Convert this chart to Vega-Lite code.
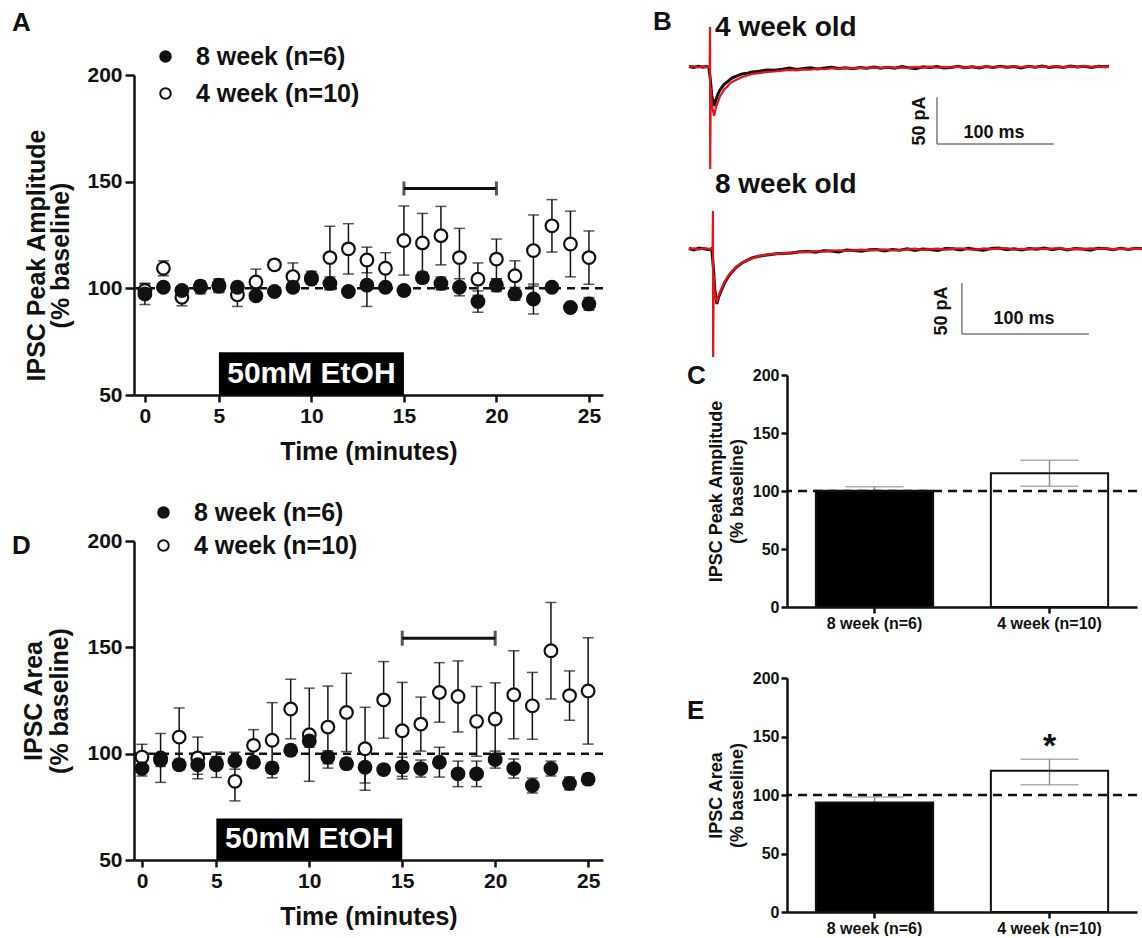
{
  "$schema": "https://vega.github.io/schema/vega-lite/v6.json",
  "background": "white",
  "padding": {"left": 12, "top": 8, "right": 0, "bottom": 0},
  "config": {
    "view": {"stroke": null},
    "font": "Liberation Sans",
    "axis": {"grid": false, "domainColor": "#111", "domainWidth": 2.5, "tickColor": "#111", "tickWidth": 2.5, "labelFont": "Liberation Sans", "labelFontWeight": "bold", "labelColor": "#111", "titleFont": "Liberation Sans", "titleFontWeight": "bold", "titleColor": "#111"},
    "legend": {"labelFont": "Liberation Sans", "labelFontWeight": "bold", "labelColor": "#111", "labelLimit": 400},
    "title": {"font": "Liberation Sans", "fontWeight": "bold", "color": "#111", "anchor": "start", "frame": "group", "offset": 0, "baseline": "bottom", "fontSize": 26}
  },
  "datasets": {
    "ampA": [
      {"t":1,"g":"4 week (n=10)","v":99,"lo":96,"hi":102},
      {"t":2,"g":"4 week (n=10)","v":109.4,"lo":105.9,"hi":112.9},
      {"t":3,"g":"4 week (n=10)","v":95.8,"lo":91.8,"hi":99.8},
      {"t":4,"g":"4 week (n=10)","v":101,"lo":99,"hi":103},
      {"t":5,"g":"4 week (n=10)","v":101.5,"lo":98.5,"hi":104.5},
      {"t":6,"g":"4 week (n=10)","v":97,"lo":91.5,"hi":102.5},
      {"t":7,"g":"4 week (n=10)","v":103,"lo":97,"hi":109},
      {"t":8,"g":"4 week (n=10)","v":111,"lo":108.7,"hi":113.3},
      {"t":9,"g":"4 week (n=10)","v":105.5,"lo":99.1,"hi":111.9},
      {"t":10,"g":"4 week (n=10)","v":105,"lo":102,"hi":108},
      {"t":11,"g":"4 week (n=10)","v":114.4,"lo":99.7,"hi":129.1},
      {"t":12,"g":"4 week (n=10)","v":118.5,"lo":106.7,"hi":130.3},
      {"t":13,"g":"4 week (n=10)","v":113.3,"lo":107.3,"hi":119.3},
      {"t":14,"g":"4 week (n=10)","v":109.4,"lo":102.1,"hi":116.7},
      {"t":15,"g":"4 week (n=10)","v":122.4,"lo":106.2,"hi":138.6},
      {"t":16,"g":"4 week (n=10)","v":121.3,"lo":107.5,"hi":135.1},
      {"t":17,"g":"4 week (n=10)","v":124.7,"lo":111,"hi":138.4},
      {"t":18,"g":"4 week (n=10)","v":114.4,"lo":100.7,"hi":128.1},
      {"t":19,"g":"4 week (n=10)","v":104.3,"lo":96.7,"hi":111.9},
      {"t":20,"g":"4 week (n=10)","v":113.7,"lo":104.3,"hi":123.1},
      {"t":21,"g":"4 week (n=10)","v":105.9,"lo":98.9,"hi":112.9},
      {"t":22,"g":"4 week (n=10)","v":117.7,"lo":101,"hi":134.4},
      {"t":23,"g":"4 week (n=10)","v":129.3,"lo":117,"hi":141.6},
      {"t":24,"g":"4 week (n=10)","v":120.8,"lo":105.4,"hi":136.2},
      {"t":25,"g":"4 week (n=10)","v":114.4,"lo":101.9,"hi":126.9},
      {"t":1,"g":"8 week (n=6)","v":97.4,"lo":92.4,"hi":102.4},
      {"t":2,"g":"8 week (n=6)","v":100.5,"lo":99,"hi":102},
      {"t":3,"g":"8 week (n=6)","v":99,"lo":97,"hi":101},
      {"t":4,"g":"8 week (n=6)","v":100.5,"lo":97.5,"hi":103.5},
      {"t":5,"g":"8 week (n=6)","v":101,"lo":98,"hi":104},
      {"t":6,"g":"8 week (n=6)","v":100.5,"lo":98.5,"hi":102.5},
      {"t":7,"g":"8 week (n=6)","v":96.5,"lo":95,"hi":98},
      {"t":8,"g":"8 week (n=6)","v":98.5,"lo":97,"hi":100},
      {"t":9,"g":"8 week (n=6)","v":100.5,"lo":98.5,"hi":102.5},
      {"t":10,"g":"8 week (n=6)","v":104.3,"lo":102.3,"hi":106.3},
      {"t":11,"g":"8 week (n=6)","v":102.3,"lo":99.3,"hi":105.3},
      {"t":12,"g":"8 week (n=6)","v":98.5,"lo":97,"hi":100},
      {"t":13,"g":"8 week (n=6)","v":101.5,"lo":91.5,"hi":111.5},
      {"t":14,"g":"8 week (n=6)","v":100.5,"lo":98.5,"hi":102.5},
      {"t":15,"g":"8 week (n=6)","v":99,"lo":97,"hi":101},
      {"t":16,"g":"8 week (n=6)","v":105,"lo":102.5,"hi":107.5},
      {"t":17,"g":"8 week (n=6)","v":102.3,"lo":99.3,"hi":105.3},
      {"t":18,"g":"8 week (n=6)","v":100.5,"lo":96.5,"hi":104.5},
      {"t":19,"g":"8 week (n=6)","v":93.8,"lo":88.8,"hi":98.8},
      {"t":20,"g":"8 week (n=6)","v":101.5,"lo":98.5,"hi":104.5},
      {"t":21,"g":"8 week (n=6)","v":97.4,"lo":94.4,"hi":100.4},
      {"t":22,"g":"8 week (n=6)","v":95,"lo":88,"hi":102},
      {"t":23,"g":"8 week (n=6)","v":100.5,"lo":99,"hi":102},
      {"t":24,"g":"8 week (n=6)","v":91,"lo":90,"hi":92},
      {"t":25,"g":"8 week (n=6)","v":92.7,"lo":89.7,"hi":95.7}
    ],
    "areaD": [
      {"t":1,"g":"4 week (n=10)","v":98.4,"lo":92.4,"hi":104.4},
      {"t":2,"g":"4 week (n=10)","v":98,"lo":86.5,"hi":109.5},
      {"t":3,"g":"4 week (n=10)","v":107.8,"lo":94.1,"hi":121.5},
      {"t":4,"g":"4 week (n=10)","v":98,"lo":88.2,"hi":107.8},
      {"t":5,"g":"4 week (n=10)","v":94.8,"lo":88.8,"hi":100.8},
      {"t":6,"g":"4 week (n=10)","v":87,"lo":77.8,"hi":96.2},
      {"t":7,"g":"4 week (n=10)","v":103.9,"lo":96.5,"hi":111.3},
      {"t":8,"g":"4 week (n=10)","v":106.3,"lo":88.6,"hi":124},
      {"t":9,"g":"4 week (n=10)","v":121,"lo":107,"hi":135},
      {"t":10,"g":"4 week (n=10)","v":108.9,"lo":87,"hi":130.8},
      {"t":11,"g":"4 week (n=10)","v":112.5,"lo":93.2,"hi":131.8},
      {"t":12,"g":"4 week (n=10)","v":119.4,"lo":101,"hi":137.8},
      {"t":13,"g":"4 week (n=10)","v":102.3,"lo":82.8,"hi":121.8},
      {"t":14,"g":"4 week (n=10)","v":125.3,"lo":107.3,"hi":143.3},
      {"t":15,"g":"4 week (n=10)","v":110.8,"lo":88.1,"hi":133.5},
      {"t":16,"g":"4 week (n=10)","v":113.9,"lo":101.2,"hi":126.6},
      {"t":17,"g":"4 week (n=10)","v":128.8,"lo":114.8,"hi":142.8},
      {"t":18,"g":"4 week (n=10)","v":126.9,"lo":110.2,"hi":143.6},
      {"t":19,"g":"4 week (n=10)","v":115.2,"lo":98.8,"hi":131.6},
      {"t":20,"g":"4 week (n=10)","v":116.3,"lo":99.3,"hi":133.3},
      {"t":21,"g":"4 week (n=10)","v":127.7,"lo":107,"hi":148.4},
      {"t":22,"g":"4 week (n=10)","v":122.5,"lo":106.8,"hi":138.2},
      {"t":23,"g":"4 week (n=10)","v":148.4,"lo":125.7,"hi":171.1},
      {"t":24,"g":"4 week (n=10)","v":127.3,"lo":115.7,"hi":138.9},
      {"t":25,"g":"4 week (n=10)","v":129.5,"lo":104.5,"hi":154.5},
      {"t":1,"g":"8 week (n=6)","v":93,"lo":89.5,"hi":96.5},
      {"t":2,"g":"8 week (n=6)","v":97,"lo":94,"hi":100},
      {"t":3,"g":"8 week (n=6)","v":94.8,"lo":92.3,"hi":97.3},
      {"t":4,"g":"8 week (n=6)","v":94.8,"lo":90.3,"hi":99.3},
      {"t":5,"g":"8 week (n=6)","v":95.6,"lo":92.6,"hi":98.6},
      {"t":6,"g":"8 week (n=6)","v":96.7,"lo":92.7,"hi":100.7},
      {"t":7,"g":"8 week (n=6)","v":96,"lo":94,"hi":98},
      {"t":8,"g":"8 week (n=6)","v":93.3,"lo":90.8,"hi":95.8},
      {"t":9,"g":"8 week (n=6)","v":101.6,"lo":99.1,"hi":104.1},
      {"t":10,"g":"8 week (n=6)","v":106,"lo":103,"hi":109},
      {"t":11,"g":"8 week (n=6)","v":98.3,"lo":95.3,"hi":101.3},
      {"t":12,"g":"8 week (n=6)","v":95.3,"lo":92.8,"hi":97.8},
      {"t":13,"g":"8 week (n=6)","v":93.6,"lo":86.2,"hi":101},
      {"t":14,"g":"8 week (n=6)","v":92.5,"lo":90.5,"hi":94.5},
      {"t":15,"g":"8 week (n=6)","v":93.8,"lo":89.3,"hi":98.3},
      {"t":16,"g":"8 week (n=6)","v":93,"lo":89,"hi":97},
      {"t":17,"g":"8 week (n=6)","v":96,"lo":89,"hi":103},
      {"t":18,"g":"8 week (n=6)","v":90.5,"lo":84.5,"hi":96.5},
      {"t":19,"g":"8 week (n=6)","v":90.5,"lo":84.5,"hi":96.5},
      {"t":20,"g":"8 week (n=6)","v":97.2,"lo":93.2,"hi":101.2},
      {"t":21,"g":"8 week (n=6)","v":93,"lo":88.5,"hi":97.5},
      {"t":22,"g":"8 week (n=6)","v":85,"lo":81.5,"hi":88.5},
      {"t":23,"g":"8 week (n=6)","v":93,"lo":89.5,"hi":96.5},
      {"t":24,"g":"8 week (n=6)","v":86,"lo":83,"hi":89},
      {"t":25,"g":"8 week (n=6)","v":88,"lo":85.5,"hi":90.5}
    ],
    "boxA": [{"t":5,"t2":15,"v":50,"v2":70,"tm":10,"vm":60,"label":"50mM EtOH"}],
    "boxD": [{"t":5,"t2":15,"v":50,"v2":69.5,"tm":10,"vm":59.7,"label":"50mM EtOH"}],
    "brA": [{"t":15,"t2":20,"v":146.8}],
    "brD": [{"t":15,"t2":20,"v":154.3}],
    "ref100": [{"v":100}],
    "tr4k": [
      {"t":-18,"I":0.5},{"t":-14,"I":-0.5},{"t":-10,"I":0.8},{"t":-6,"I":-0.3},{"t":-3,"I":0.4},{"t":-1,"I":0},
      {"t":0.3,"I":-14},{"t":1.5,"I":-30},{"t":3.4,"I":-41.5},{"t":5,"I":-35},{"t":6.8,"I":-28.7},{"t":8.5,"I":-24.5},
      {"t":10.3,"I":-21.3},{"t":12,"I":-18.5},{"t":14.5,"I":-16},{"t":17,"I":-13.5},{"t":18.8,"I":-11.7},{"t":22,"I":-10},
      {"t":27.4,"I":-7.4},{"t":32,"I":-6.5},{"t":35.9,"I":-5.3},{"t":42,"I":-4.5},{"t":48.7,"I":-3.2},{"t":55,"I":-3.5},
      {"t":62,"I":-2.4},{"t":68,"I":-1.2},{"t":74,"I":-2.6},{"t":80,"I":-1.5},{"t":86,"I":-0.8},{"t":92,"I":-2.0},
      {"t":98,"I":-1.1},{"t":104,"I":-0.4},{"t":110,"I":-1.6},{"t":116,"I":-0.9},{"t":122,"I":-1.9},{"t":128,"I":-0.6},
      {"t":134,"I":-1.3},{"t":140,"I":0.1},{"t":146,"I":-1.4},{"t":152,"I":-0.3},{"t":158,"I":-1.2},{"t":164,"I":0.4},
      {"t":170,"I":-0.9},{"t":176,"I":-1.7},{"t":182,"I":0.2},{"t":188,"I":-0.6},{"t":194,"I":0.5},{"t":200,"I":-1.0},
      {"t":206,"I":-0.4},{"t":212,"I":0.7},{"t":218,"I":-0.8},{"t":224,"I":0.3},{"t":230,"I":-1.1},{"t":236,"I":0.6},
      {"t":242,"I":-0.6},{"t":248,"I":0.9},{"t":254,"I":-0.3},{"t":260,"I":0.5},{"t":266,"I":-0.9},{"t":272,"I":0.8},
      {"t":278,"I":-0.2},{"t":284,"I":1.0},{"t":290,"I":-0.5},{"t":296,"I":0.6},{"t":302,"I":-0.4},{"t":308,"I":1.1},
      {"t":314,"I":0.1},{"t":320,"I":0.8},{"t":326,"I":-0.6},{"t":332,"I":0.9},{"t":338,"I":0.2},{"t":341,"I":0.8}
    ],
    "tr4r": [
      {"t":-18,"I":0.3},{"t":-14,"I":0.9},{"t":-10,"I":-0.4},{"t":-6,"I":0.6},{"t":-3,"I":-0.2},{"t":-1,"I":0.2},{"t":-0.3,"I":0},
      {"t":0,"I":42.6},{"t":0.15,"I":-108.5},{"t":0.6,"I":-22},{"t":1.5,"I":-40},{"t":3.4,"I":-52},{"t":5,"I":-43},
      {"t":6.8,"I":-37},{"t":8.5,"I":-31},{"t":10.3,"I":-27.7},{"t":12,"I":-24},{"t":14.5,"I":-21.3},{"t":17,"I":-17.5},
      {"t":18.8,"I":-16},{"t":22,"I":-13.8},{"t":27.4,"I":-10.6},{"t":32,"I":-9},{"t":35.9,"I":-7.4},{"t":42,"I":-6.5},
      {"t":48.7,"I":-5.3},{"t":55,"I":-4.8},
      {"t":62,"I":-3.9},{"t":68,"I":-3.0},{"t":74,"I":-3.6},{"t":80,"I":-2.6},{"t":86,"I":-2.9},{"t":92,"I":-1.8},
      {"t":98,"I":-2.4},{"t":104,"I":-1.3},{"t":110,"I":-1.9},{"t":116,"I":-1.0},{"t":122,"I":-1.7},{"t":128,"I":-0.8},
      {"t":134,"I":-1.5},{"t":140,"I":-0.5},{"t":146,"I":-1.1},{"t":152,"I":-0.2},{"t":158,"I":-1.0},{"t":164,"I":-0.4},
      {"t":170,"I":-1.2},{"t":176,"I":0.1},{"t":182,"I":-0.7},{"t":188,"I":0.3},{"t":194,"I":-0.8},{"t":200,"I":0.2},
      {"t":206,"I":-0.5},{"t":212,"I":0.4},{"t":218,"I":-0.6},{"t":224,"I":0.5},{"t":230,"I":-0.3},{"t":236,"I":0.7},
      {"t":242,"I":-0.5},{"t":248,"I":0.4},{"t":254,"I":-0.6},{"t":260,"I":0.8},{"t":266,"I":-0.2},{"t":272,"I":0.6},
      {"t":278,"I":-0.4},{"t":284,"I":0.7},{"t":290,"I":0.0},{"t":296,"I":0.9},{"t":302,"I":-0.3},{"t":308,"I":0.6},
      {"t":314,"I":-0.2},{"t":320,"I":0.9},{"t":326,"I":0.1},{"t":332,"I":0.6},{"t":338,"I":-0.1},{"t":341,"I":0.5}
    ],
    "tr8k": [
      {"t":-19,"I":0.5},{"t":-15,"I":-0.8},{"t":-11,"I":0.9},{"t":-7,"I":0.2},{"t":-3,"I":-0.6},{"t":-1,"I":0.3},
      {"t":0.5,"I":-20},{"t":1.5,"I":-40},{"t":3.1,"I":-52.9},{"t":4.5,"I":-46},{"t":7.1,"I":-38.5},{"t":9,"I":-33},
      {"t":11,"I":-28.8},{"t":13,"I":-25},{"t":15,"I":-22},{"t":18,"I":-18},{"t":22.8,"I":-13.5},{"t":26,"I":-11.5},
      {"t":30.7,"I":-8.7},{"t":36,"I":-7},{"t":42.5,"I":-5.8},{"t":50,"I":-4.5},
      {"t":62,"I":-3.8},{"t":68,"I":-2.6},{"t":75,"I":-2.5},{"t":81,"I":-3.1},{"t":87,"I":-1.6},{"t":93,"I":-1.9},
      {"t":99,"I":-2.8},{"t":105,"I":-1.0},{"t":111,"I":-1.5},{"t":117,"I":-2.2},{"t":123,"I":-0.7},{"t":129,"I":-0.6},
      {"t":135,"I":-1.8},{"t":141,"I":-0.4},{"t":147,"I":-1.2},{"t":153,"I":0.2},{"t":159,"I":-1.4},{"t":165,"I":-0.1},
      {"t":171,"I":-0.4},{"t":177,"I":-1.5},{"t":183,"I":0.5},{"t":189,"I":0.3},{"t":195,"I":-0.9},{"t":201,"I":0.6},
      {"t":207,"I":-0.5},{"t":213,"I":-1.3},{"t":219,"I":0.4},{"t":225,"I":0.9},{"t":231,"I":-0.7},{"t":237,"I":0.2},
      {"t":243,"I":-1.0},{"t":249,"I":0.5},{"t":255,"I":-0.3},{"t":261,"I":1.0},{"t":267,"I":-0.6},{"t":273,"I":0.6},
      {"t":279,"I":-0.9},{"t":285,"I":0.4},{"t":291,"I":0.0},{"t":297,"I":-1.1},{"t":303,"I":0.7},{"t":309,"I":0.4},
      {"t":315,"I":-0.8},{"t":321,"I":0.6},{"t":327,"I":-0.5},{"t":333,"I":0.8},{"t":338,"I":0.3}
    ],
    "tr8r": [
      {"t":-19,"I":0.2},{"t":-15,"I":0.6},{"t":-11,"I":-0.5},{"t":-7,"I":0.7},{"t":-3,"I":0.1},{"t":-1,"I":-0.3},{"t":-0.3,"I":0},
      {"t":0,"I":36.5},{"t":0.15,"I":-103.8},{"t":0.6,"I":-25},{"t":1.6,"I":-45},{"t":3.1,"I":-50},{"t":4.5,"I":-45},
      {"t":7.1,"I":-37},{"t":9,"I":-32},{"t":11,"I":-28},{"t":13,"I":-24.5},{"t":15,"I":-21.5},{"t":18,"I":-17.8},
      {"t":22.8,"I":-13.2},{"t":26,"I":-11.2},{"t":30.7,"I":-8.9},{"t":36,"I":-6.7},{"t":42.5,"I":-5.5},{"t":50,"I":-4.7},
      {"t":62,"I":-3.5},{"t":68,"I":-3.1},{"t":75,"I":-2.7},{"t":81,"I":-2.0},{"t":87,"I":-2.5},{"t":93,"I":-1.7},
      {"t":99,"I":-1.2},{"t":105,"I":-1.9},{"t":111,"I":-1.3},{"t":117,"I":-0.6},{"t":123,"I":-1.4},{"t":129,"I":-0.8},
      {"t":135,"I":-0.3},{"t":141,"I":-1.2},{"t":147,"I":-1.0},{"t":153,"I":-0.4},{"t":159,"I":0.3},{"t":165,"I":-0.8},
      {"t":171,"I":-0.2},{"t":177,"I":0.4},{"t":183,"I":-0.6},{"t":189,"I":0.1},{"t":195,"I":0.7},{"t":201,"I":-0.4},
      {"t":207,"I":-0.7},{"t":213,"I":0.5},{"t":219,"I":-0.2},{"t":225,"I":0.3},{"t":231,"I":0.8},{"t":237,"I":-0.5},
      {"t":243,"I":0.2},{"t":249,"I":-0.4},{"t":255,"I":0.6},{"t":261,"I":-0.1},{"t":267,"I":0.4},{"t":273,"I":0.9},
      {"t":279,"I":-0.3},{"t":285,"I":0.2},{"t":291,"I":-0.2},{"t":297,"I":0.5},{"t":303,"I":0.1},{"t":309,"I":0.6},
      {"t":315,"I":-0.4},{"t":321,"I":0.3},{"t":327,"I":-0.2},{"t":333,"I":0.4},{"t":338,"I":0.1}
    ],
    "sb4": [{"t":194,"t2":194,"I":-32.2,"I2":-81.9},{"t":194,"t2":293.8,"I":-81.9,"I2":-81.9}],
    "sb8": [{"t":196,"t2":196,"I":-32.7,"I2":-81.7},{"t":196,"t2":296,"I":-81.7,"I2":-81.7}],
    "lab4": [
      {"kind":"title","t":4.3,"I":41.5,"label":"4 week old"},
      {"kind":"amp","t":179.5,"I":-57.4,"label":"50 pA"},
      {"kind":"time","t":242.7,"I":-70.2,"label":"100 ms"}
    ],
    "lab8": [
      {"kind":"title","t":1.6,"I":62,"label":"8 week old"},
      {"kind":"amp","t":180.3,"I":-59.6,"label":"50 pA"},
      {"kind":"time","t":244.9,"I":-67.3,"label":"100 ms"}
    ],
    "barC": [
      {"g":"8 week (n=6)","m":100.3,"lo":97,"hi":103.6},
      {"g":"4 week (n=10)","m":115.2,"lo":104,"hi":126.5}
    ],
    "barE": [
      {"g":"8 week (n=6)","m":93.6,"lo":89,"hi":98.2},
      {"g":"4 week (n=10)","m":120.7,"lo":108.7,"hi":130.6}
    ],
    "star": [{"g":"4 week (n=10)","v":141,"label":"*"}]
  },
  "spacing": 48,
  "resolve": {"scale": {"fill": "independent"}, "legend": {"fill": "independent"}},
  "hconcat": [
    {
      "bounds": "flush",
      "spacing": 146,
      "resolve": {"scale": {"fill": "independent"}, "legend": {"fill": "independent"}},
      "vconcat": [
        {
          "width": 469, "height": 320,
          "title": {"text": "A", "dx": -122, "dy": -4},
          "layer": [
            {"data": {"name": "boxA"}, "mark": {"type": "rect", "color": "#000"},
             "encoding": {
               "x": {"field": "t", "type": "quantitative", "scale": {"domain": [0.41, 25.76], "nice": false, "zero": false},
                     "axis": {"values": [1, 5, 10, 15, 20, 25], "labelExpr": "datum.value == 1 ? '0' : datum.label", "title": "Time (minutes)", "titleFontSize": 25, "labelFontSize": 21, "tickSize": 7, "labelPadding": 3, "titlePadding": 13, "labelFlush": false}},
               "x2": {"field": "t2"},
               "y": {"field": "v", "type": "quantitative", "scale": {"domain": [50, 200], "nice": false, "zero": false},
                     "axis": {"values": [50, 100, 150, 200], "title": ["IPSC Peak Amplitude", "(% baseline)"], "titleFontSize": 25, "titleLineHeight": 24, "titleY": 180, "labelFontSize": 21, "tickSize": 9, "labelPadding": 3, "titlePadding": 13}},
               "y2": {"field": "v2"}}},
            {"data": {"name": "boxA"}, "mark": {"type": "text", "color": "white", "font": "Liberation Sans", "fontWeight": "bold", "fontSize": 30, "align": "center", "baseline": "middle"},
             "encoding": {
               "x": {"field": "tm", "type": "quantitative"},
               "y": {"field": "vm", "type": "quantitative"},
               "text": {"field": "label"}}},
            {"data": {"name": "ref100"}, "mark": {"type": "rule", "color": "#111", "strokeWidth": 2.5, "strokeDash": [8, 6]},
             "encoding": {"y": {"field": "v", "type": "quantitative"}}},
            {"data": {"name": "brA"}, "mark": {"type": "rule", "color": "#111", "strokeWidth": 3},
             "encoding": {"x": {"field": "t", "type": "quantitative"}, "x2": {"field": "t2"}, "y": {"field": "v", "type": "quantitative"}}},
            {"data": {"name": "brA"}, "mark": {"type": "tick", "color": "#111", "thickness": 3, "size": 14, "orient": "vertical"},
             "encoding": {"x": {"field": "t", "type": "quantitative"}, "y": {"field": "v", "type": "quantitative"}}},
            {"data": {"name": "brA"}, "mark": {"type": "tick", "color": "#111", "thickness": 3, "size": 14, "orient": "vertical"},
             "encoding": {"x": {"field": "t2", "type": "quantitative"}, "y": {"field": "v", "type": "quantitative"}}},
            {"data": {"name": "ampA"}, "mark": {"type": "rule", "color": "#111", "strokeWidth": 1.5},
             "encoding": {"x": {"field": "t", "type": "quantitative"}, "y": {"field": "lo", "type": "quantitative"}, "y2": {"field": "hi"}}},
            {"data": {"name": "ampA"}, "mark": {"type": "tick", "color": "#111", "thickness": 1.5, "size": 11, "orient": "horizontal"},
             "encoding": {"x": {"field": "t", "type": "quantitative"}, "y": {"field": "lo", "type": "quantitative"}}},
            {"data": {"name": "ampA"}, "mark": {"type": "tick", "color": "#111", "thickness": 1.5, "size": 11, "orient": "horizontal"},
             "encoding": {"x": {"field": "t", "type": "quantitative"}, "y": {"field": "hi", "type": "quantitative"}}},
            {"data": {"name": "ampA"}, "mark": {"type": "point", "filled": true, "shape": "circle", "size": 160, "stroke": "#111", "strokeWidth": 2.2, "opacity": 1},
             "encoding": {
               "x": {"field": "t", "type": "quantitative"},
               "y": {"field": "v", "type": "quantitative"},
               "fill": {"field": "g", "type": "nominal", "scale": {"domain": ["8 week (n=6)", "4 week (n=10)"], "range": ["#111", "#ffffff"]},
                        "legend": {"title": null, "orient": "none", "legendX": 19, "legendY": -31, "labelFontSize": 25, "labelLimit": 400, "symbolType": "circle", "symbolSize": 110, "symbolStrokeColor": "#111", "symbolStrokeWidth": 2, "rowPadding": 11, "labelOffset": 18, "padding": 0}}
             }}
          ]
        },
        {
          "width": 469, "height": 319,
          "title": {"text": "D", "dx": -122, "dy": 63},
          "layer": [
            {"data": {"name": "boxD"}, "mark": {"type": "rect", "color": "#000"},
             "encoding": {
               "x": {"field": "t", "type": "quantitative", "scale": {"domain": [0.57, 25.8], "nice": false, "zero": false},
                     "axis": {"values": [1, 5, 10, 15, 20, 25], "labelExpr": "datum.value == 1 ? '0' : datum.label", "title": "Time (minutes)", "titleFontSize": 25, "labelFontSize": 21, "tickSize": 7, "labelPadding": 3, "titlePadding": 13, "labelFlush": false}},
               "x2": {"field": "t2"},
               "y": {"field": "v", "type": "quantitative", "scale": {"domain": [50, 200], "nice": false, "zero": false},
                     "axis": {"values": [50, 100, 150, 200], "title": ["IPSC Area", "(% baseline)"], "titleFontSize": 25, "titleLineHeight": 26, "labelFontSize": 21, "tickSize": 9, "labelPadding": 3, "titlePadding": 14}},
               "y2": {"field": "v2"}}},
            {"data": {"name": "boxD"}, "mark": {"type": "text", "color": "white", "font": "Liberation Sans", "fontWeight": "bold", "fontSize": 30, "align": "center", "baseline": "middle"},
             "encoding": {
               "x": {"field": "tm", "type": "quantitative"},
               "y": {"field": "vm", "type": "quantitative"},
               "text": {"field": "label"}}},
            {"data": {"name": "ref100"}, "mark": {"type": "rule", "color": "#111", "strokeWidth": 2.5, "strokeDash": [8, 6]},
             "encoding": {"y": {"field": "v", "type": "quantitative"}}},
            {"data": {"name": "brD"}, "mark": {"type": "rule", "color": "#111", "strokeWidth": 3},
             "encoding": {"x": {"field": "t", "type": "quantitative"}, "x2": {"field": "t2"}, "y": {"field": "v", "type": "quantitative"}}},
            {"data": {"name": "brD"}, "mark": {"type": "tick", "color": "#111", "thickness": 3, "size": 15, "orient": "vertical"},
             "encoding": {"x": {"field": "t", "type": "quantitative"}, "y": {"field": "v", "type": "quantitative"}}},
            {"data": {"name": "brD"}, "mark": {"type": "tick", "color": "#111", "thickness": 3, "size": 15, "orient": "vertical"},
             "encoding": {"x": {"field": "t2", "type": "quantitative"}, "y": {"field": "v", "type": "quantitative"}}},
            {"data": {"name": "areaD"}, "mark": {"type": "rule", "color": "#111", "strokeWidth": 1.5},
             "encoding": {"x": {"field": "t", "type": "quantitative"}, "y": {"field": "lo", "type": "quantitative"}, "y2": {"field": "hi"}}},
            {"data": {"name": "areaD"}, "mark": {"type": "tick", "color": "#111", "thickness": 1.5, "size": 11, "orient": "horizontal"},
             "encoding": {"x": {"field": "t", "type": "quantitative"}, "y": {"field": "lo", "type": "quantitative"}}},
            {"data": {"name": "areaD"}, "mark": {"type": "tick", "color": "#111", "thickness": 1.5, "size": 11, "orient": "horizontal"},
             "encoding": {"x": {"field": "t", "type": "quantitative"}, "y": {"field": "hi", "type": "quantitative"}}},
            {"data": {"name": "areaD"}, "mark": {"type": "point", "filled": true, "shape": "circle", "size": 160, "stroke": "#111", "strokeWidth": 2.2, "opacity": 1},
             "encoding": {
               "x": {"field": "t", "type": "quantitative"},
               "y": {"field": "v", "type": "quantitative"},
               "fill": {"field": "g", "type": "nominal", "scale": {"domain": ["8 week (n=6)", "4 week (n=10)"], "range": ["#111", "#ffffff"]},
                        "legend": {"title": null, "orient": "none", "legendX": 17, "legendY": -41, "labelFontSize": 25, "labelLimit": 400, "symbolType": "circle", "symbolSize": 110, "symbolStrokeColor": "#111", "symbolStrokeWidth": 2, "rowPadding": 7, "labelOffset": 18, "padding": 0}}
             }}
          ]
        }
      ]
    },
    {
      "bounds": "flush",
      "spacing": 71,
      "resolve": {"scale": {"fill": "independent"}, "legend": {"fill": "independent"}},
      "vconcat": [
        {
          "width": 357, "height": 229,
          "title": {"text": "B", "dx": -134, "dy": 25},
          "resolve": {"scale": {"x": "independent", "y": "independent"}},
          "layer": [
            {
              "encoding": {
                "x": {"field": "t", "type": "quantitative", "scale": {"domain": [65.8, 371], "nice": false, "zero": false}, "axis": null},
                "y": {"field": "I", "type": "quantitative", "scale": {"domain": [-252.1, -8.5], "nice": false, "zero": false}, "axis": null}
              },
              "layer": [
                {"data": {"name": "tr4k"}, "mark": {"type": "line", "color": "#111", "strokeWidth": 3}, "encoding": {}},
                {"data": {"name": "tr4r"}, "mark": {"type": "line", "color": "#e5131b", "strokeWidth": 2.2}, "encoding": {}},
                {"data": {"name": "sb4"}, "mark": {"type": "rule", "color": "#7a7a7a", "strokeWidth": 1.5}, "encoding": {"x2": {"field": "t2"}, "y2": {"field": "I2"}}},
                {"data": {"name": "lab4"}, "transform": [{"filter": "datum.kind == 'title'"}], "mark": {"type": "text", "align": "left", "baseline": "middle", "fontSize": 28, "fontWeight": "bold", "font": "Liberation Sans", "color": "#111"}, "encoding": {"text": {"field": "label"}}},
                {"data": {"name": "lab4"}, "transform": [{"filter": "datum.kind == 'amp'"}], "mark": {"type": "text", "align": "center", "baseline": "middle", "angle": 270, "fontSize": 18, "fontWeight": "bold", "font": "Liberation Sans", "color": "#111"}, "encoding": {"text": {"field": "label"}}},
                {"data": {"name": "lab4"}, "transform": [{"filter": "datum.kind == 'time'"}], "mark": {"type": "text", "align": "center", "baseline": "middle", "fontSize": 18, "fontWeight": "bold", "font": "Liberation Sans", "color": "#111"}, "encoding": {"text": {"field": "label"}}}
              ]
            },
            {
              "encoding": {
                "x": {"field": "t", "type": "quantitative", "scale": {"domain": [58.3, 339.4], "nice": false, "zero": false}, "axis": null},
                "y": {"field": "I", "type": "quantitative", "scale": {"domain": [-52.9, 167.3], "nice": false, "zero": false}, "axis": null}
              },
              "layer": [
                {"data": {"name": "tr8k"}, "mark": {"type": "line", "color": "#111", "strokeWidth": 3}, "encoding": {}},
                {"data": {"name": "tr8r"}, "mark": {"type": "line", "color": "#e5131b", "strokeWidth": 2.2}, "encoding": {}},
                {"data": {"name": "sb8"}, "mark": {"type": "rule", "color": "#7a7a7a", "strokeWidth": 1.5}, "encoding": {"x2": {"field": "t2"}, "y2": {"field": "I2"}}},
                {"data": {"name": "lab8"}, "transform": [{"filter": "datum.kind == 'title'"}], "mark": {"type": "text", "align": "left", "baseline": "middle", "fontSize": 28, "fontWeight": "bold", "font": "Liberation Sans", "color": "#111"}, "encoding": {"text": {"field": "label"}}},
                {"data": {"name": "lab8"}, "transform": [{"filter": "datum.kind == 'amp'"}], "mark": {"type": "text", "align": "center", "baseline": "middle", "angle": 270, "fontSize": 18, "fontWeight": "bold", "font": "Liberation Sans", "color": "#111"}, "encoding": {"text": {"field": "label"}}},
                {"data": {"name": "lab8"}, "transform": [{"filter": "datum.kind == 'time'"}], "mark": {"type": "text", "align": "center", "baseline": "middle", "fontSize": 18, "fontWeight": "bold", "font": "Liberation Sans", "color": "#111"}, "encoding": {"text": {"field": "label"}}}
              ]
            }
          ]
        },
        {
          "width": 350, "height": 232,
          "title": {"text": "C", "dx": -100, "dy": 26},
          "layer": [
            {"data": {"name": "barC"}, "mark": {"type": "rule", "color": "#8c8c8c", "strokeWidth": 1.5},
             "encoding": {
               "x": {"field": "g", "type": "nominal", "sort": null, "scale": {"domain": ["8 week (n=6)", "4 week (n=10)"], "paddingInner": 0, "paddingOuter": 0},
                     "axis": {"title": null, "labelAngle": 0, "labelFontSize": 16, "tickSize": 6, "labelPadding": 2}},
               "y": {"field": "lo", "type": "quantitative", "scale": {"domain": [0, 200], "nice": false},
                     "axis": {"values": [0, 50, 100, 150, 200], "title": ["IPSC Peak Amplitude", "(% baseline)"], "titleFontSize": 18, "titleLineHeight": 21, "labelFontSize": 16, "tickSize": 6, "labelPadding": 2, "titlePadding": 6}},
               "y2": {"field": "hi"}}},
            {"data": {"name": "barC"}, "mark": {"type": "tick", "color": "#8c8c8c", "thickness": 1.5, "size": 58},
             "encoding": {"x": {"field": "g", "type": "nominal", "sort": null}, "y": {"field": "lo", "type": "quantitative"}}},
            {"data": {"name": "barC"}, "mark": {"type": "tick", "color": "#8c8c8c", "thickness": 1.5, "size": 58},
             "encoding": {"x": {"field": "g", "type": "nominal", "sort": null}, "y": {"field": "hi", "type": "quantitative"}}},
            {"data": {"name": "barC"}, "mark": {"type": "bar", "stroke": "#111", "strokeWidth": 2, "width": {"band": 0.67}},
             "encoding": {"x": {"field": "g", "type": "nominal", "sort": null}, "y": {"field": "m", "type": "quantitative"},
                          "fill": {"field": "g", "type": "nominal", "scale": {"domain": ["8 week (n=6)", "4 week (n=10)"], "range": ["#000000", "transparent"]}, "legend": null}}},
            {"data": {"name": "ref100"}, "mark": {"type": "rule", "color": "#111", "strokeWidth": 2.5, "strokeDash": [9, 6]},
             "encoding": {"y": {"field": "v", "type": "quantitative"}}}
          ]
        },
        {
          "width": 350, "height": 234,
          "title": {"text": "E", "dx": -100, "dy": 58},
          "layer": [
            {"data": {"name": "barE"}, "mark": {"type": "rule", "color": "#8c8c8c", "strokeWidth": 1.5},
             "encoding": {
               "x": {"field": "g", "type": "nominal", "sort": null, "scale": {"domain": ["8 week (n=6)", "4 week (n=10)"], "paddingInner": 0, "paddingOuter": 0},
                     "axis": {"title": null, "labelAngle": 0, "labelFontSize": 16, "tickSize": 6, "labelPadding": 2}},
               "y": {"field": "lo", "type": "quantitative", "scale": {"domain": [0, 200], "nice": false},
                     "axis": {"values": [0, 50, 100, 150, 200], "title": ["IPSC Area", "(% baseline)"], "titleFontSize": 18, "titleLineHeight": 21, "labelFontSize": 16, "tickSize": 6, "labelPadding": 2, "titlePadding": 6}},
               "y2": {"field": "hi"}}},
            {"data": {"name": "barE"}, "mark": {"type": "tick", "color": "#8c8c8c", "thickness": 1.5, "size": 58},
             "encoding": {"x": {"field": "g", "type": "nominal", "sort": null}, "y": {"field": "lo", "type": "quantitative"}}},
            {"data": {"name": "barE"}, "mark": {"type": "tick", "color": "#8c8c8c", "thickness": 1.5, "size": 58},
             "encoding": {"x": {"field": "g", "type": "nominal", "sort": null}, "y": {"field": "hi", "type": "quantitative"}}},
            {"data": {"name": "barE"}, "mark": {"type": "bar", "stroke": "#111", "strokeWidth": 2, "width": {"band": 0.67}},
             "encoding": {"x": {"field": "g", "type": "nominal", "sort": null}, "y": {"field": "m", "type": "quantitative"},
                          "fill": {"field": "g", "type": "nominal", "scale": {"domain": ["8 week (n=6)", "4 week (n=10)"], "range": ["#000000", "transparent"]}, "legend": null}}},
            {"data": {"name": "ref100"}, "mark": {"type": "rule", "color": "#111", "strokeWidth": 2.5, "strokeDash": [9, 6]},
             "encoding": {"y": {"field": "v", "type": "quantitative"}}},
            {"data": {"name": "star"}, "mark": {"type": "text", "fontSize": 34, "fontWeight": "bold", "font": "Liberation Sans", "color": "#111", "align": "center", "baseline": "middle"},
             "encoding": {"x": {"field": "g", "type": "nominal", "sort": null}, "y": {"field": "v", "type": "quantitative"}, "text": {"field": "label"}}}
          ]
        }
      ]
    }
  ]
}
